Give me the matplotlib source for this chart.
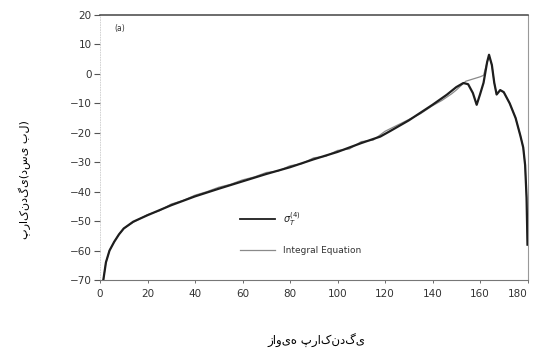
import matplotlib
matplotlib.use("Agg")
import matplotlib.pyplot as plt

# --- data ---
sigma_x = [1.4, 2.5, 4, 6, 8, 10, 14, 20, 25, 30, 40, 50, 60, 70, 80, 90, 100, 110, 118, 122,
           130, 140, 146, 150, 153, 155, 157, 158.6, 160, 161.5, 163, 163.8, 165, 166, 167,
           168.5, 170, 172.5, 175, 177, 178.2, 179, 179.6, 180]
sigma_y = [-70, -64, -60, -57, -54.5, -52.5, -50.2, -48, -46.3, -44.6, -41.6, -39, -36.5, -34,
           -31.7, -29, -26.5, -23.5, -21.3, -19.5, -15.8, -10.5, -7.1, -4.5, -3.1, -3.5, -6.5,
           -10.5, -7, -3, 4, 6.5, 3, -3, -7, -5.5, -6.2, -10, -15, -21, -25, -31, -42, -58]

ie_x = [1.4, 2.5, 4, 6, 8, 10, 14, 20, 25, 30, 35, 40, 45, 50, 55, 60, 65, 70, 75, 80, 85, 90,
        95, 100, 105, 110, 115, 120, 125, 130, 135, 140, 144, 148, 150, 152, 154, 156, 158,
        160, 161.5, 163, 163.8, 165, 166, 167, 168.5, 170, 172.5, 175, 177, 178.2, 179, 179.6, 180]
ie_y = [-70, -64, -60, -57, -54.5, -52.5, -50.4, -47.8, -46.5, -44.2, -43, -41.2, -40, -38.5,
        -37.5, -36, -35, -33.5, -33, -31.2, -30.5, -28.5, -28, -26, -25.5, -23, -22.5, -19.5,
        -17.5, -15.5, -13.5, -10.8, -9, -6.8, -5.5, -4, -2.5, -2, -1.5, -1, -0.5, 4, 6, 3, -3,
        -7, -5.5, -6.2, -10, -15, -21, -25, -31, -42, -58]

x_ticks = [0, 20, 40, 60, 80, 100, 120, 140, 160, 180]
y_ticks = [20, 10, 0, -10, -20, -30, -40, -50, -60, -70]
x_label = "زاویه پراکندگی"
y_label = "پراکندگی(دسی بل)"
legend_labels = [r"$\sigma_T^{(4)}$", "Integral Equation"]
panel_label = "(a)"

fig = plt.figure(figsize=(5.34, 3.49), dpi=100)
ax = fig.add_axes([100 / 534, 1 - 280 / 349, 427.5 / 534, 265 / 349])

ax.plot(ie_x, ie_y, color="#8a8a8a", lw=0.9, zorder=2)
ax.plot(sigma_x, sigma_y, color="#1e1e1e", lw=1.6, zorder=3)

ax.set_xlim(0, 180)
ax.set_ylim(-70, 20)
ax.set_xticks(x_ticks)
ax.set_yticks(y_ticks)
ax.tick_params(axis="both", labelsize=7.5, labelcolor="#333333", color="#555555")
ax.tick_params(axis="y", direction="out", length=4, width=0.8, pad=2)
ax.tick_params(axis="x", direction="out", length=2.5, width=0.6, pad=4)
# keep the last tick label inside the figure
ax.get_xticklabels()[-1].set_horizontalalignment("right")

ax.spines["top"].set_color("#444444")
ax.spines["top"].set_linewidth(1.1)
ax.spines["bottom"].set_color("#777777")
ax.spines["bottom"].set_linewidth(0.8)
ax.spines["right"].set_color("#999999")
ax.spines["right"].set_linewidth(0.8)
ax.spines["left"].set_color("#cccccc")
ax.spines["left"].set_linewidth(0.6)
ax.spines["left"].set_linestyle((0, (1, 2)))

# legend drawn in data coordinates
ax.plot([59, 73.7], [-49.3, -49.3], color="#1e1e1e", lw=1.3)
ax.plot([59, 73.7], [-59.9, -59.9], color="#8a8a8a", lw=0.9)
ax.text(77.2, -49.3, legend_labels[0], fontsize=7, va="center", ha="left", color="#222222")
ax.text(77.2, -59.9, legend_labels[1], fontsize=6.5, va="center", ha="left", color="#333333")
ax.text(6, 15.5, panel_label, fontsize=5.5, va="center", ha="left", color="#333333")

fig.text(316 / 534, 1 - 341 / 349, x_label, fontsize=8.5, ha="center", va="center")
fig.text(25 / 534, 1 - 180 / 349, y_label, fontsize=8, ha="center", va="center", rotation=90)

fig.savefig("out.png", dpi=100)
